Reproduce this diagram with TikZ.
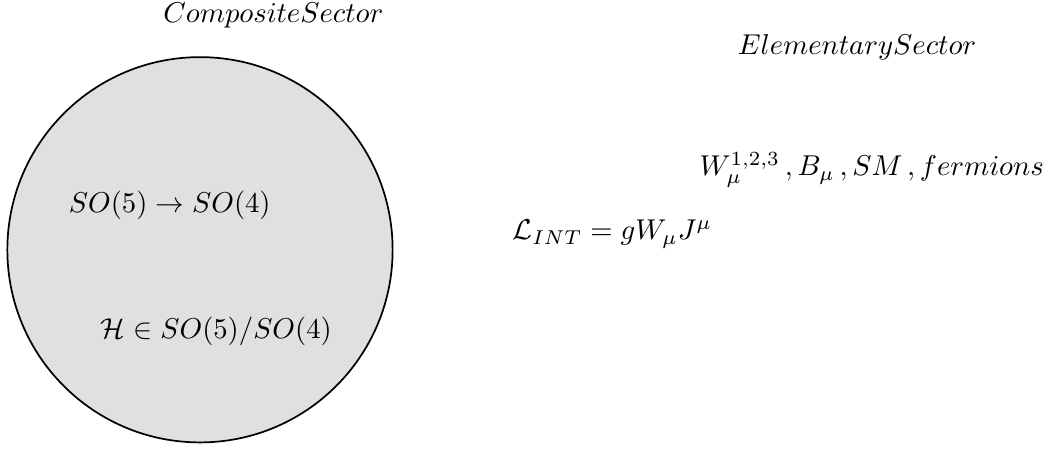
\documentclass[tikz,border=0pt]{standalone}
\usepackage{amsmath}
\usepackage{tikz}
\usetikzlibrary{positioning}
\definecolor{compgray}{RGB}{224,224,224}

\begin{document}
\begin{tikzpicture}[
    sector/.style={draw, semithick, circle, fill=compgray,
                   minimum size=4.72cm, inner sep=0pt},
    lbl/.style={inner sep=0pt}
  ]
  \useasboundingbox (0,0) rectangle (12.79,5.49);

  % composite side
  \node[sector] (comp) at (2.45,2.43) {};
  \node[lbl] (comptitle) at (3.35,5.30) {$CompositeSector$};
  \node[lbl] (breaking) at (2.08,2.97) {$SO(5)\rightarrow SO(4)$};
  \node[lbl] (higgs) at (2.65,1.43) {$\mathcal{H}\in SO(5)/SO(4)$};

  % elementary side
  \node[lbl] (elemtitle) at (10.50,4.91) {$ElementarySector$};
  \node[lbl] (fields) at (10.68,3.41) {$W_\mu^{1,2,3}\,,B_\mu\,,SM\,,fermions$};
  \node[lbl] (lint) at (7.50,2.62) {$\mathcal{L}_{INT}=gW_\mu J^\mu$};

\end{tikzpicture}
\end{document}
